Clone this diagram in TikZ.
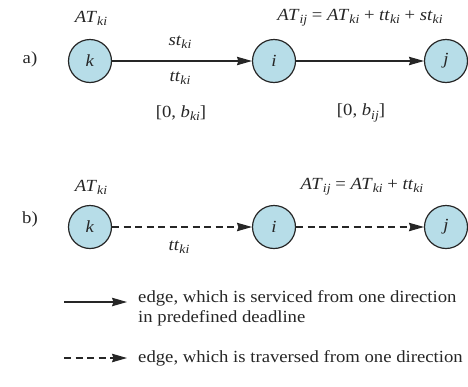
\documentclass[tikz,border=0pt]{standalone}
\usepackage{fontspec}
\setmainfont{Liberation Serif}[FakeStretch=1.1]
\usetikzlibrary{arrows.meta}
\definecolor{nodefill}{HTML}{B7DDE8}
\definecolor{ink}{HTML}{262626}
\newcommand{\vv}[2]{\textit{#1}\raisebox{-3.2pt}{\fontsize{12.5}{12.5}\selectfont\textit{#2}}}
\begin{document}
\begin{tikzpicture}[x=1pt,y=-1pt,
  font=\fontsize{17}{20}\selectfont,
  vertex/.style={circle,draw=ink,fill=nodefill,line width=1.2pt,minimum size=43pt,inner sep=0pt,text=ink},
  lbl/.style={text=ink,inner sep=0pt},
  edgearrow/.style={draw=ink,line width=1.1pt,-{Stealth[length=15pt,width=8.5pt,inset=1.5pt]}},
  dashedge/.style={edgearrow,dash pattern=on 7pt off 4.5pt}]
\useasboundingbox (0,0) rectangle (468,386);
% part a
\node[lbl] (la) at (30,59) {a)};
\node[vertex] (ka) at (90,61) {\textit{k}};
\node[vertex] (ia) at (274,61) {\textit{i}};
\node[vertex] (ja) at (446,61) {\textit{j}};
\draw[edgearrow] (ka) -- (ia);
\draw[edgearrow] (ia) -- (ja);
\node[lbl] (atka) at (91,18) {\vv{AT}{ki}};
\node[lbl] (stka) at (180,42) {\vv{st}{ki}};
\node[lbl] (ttka) at (180,78) {\vv{tt}{ki}};
\node[lbl] (bka) at (181,113) {[0, \vv{b}{ki}]};
\node[lbl] (atija) at (360,18) {\vv{AT}{ij} = \vv{AT}{ki} + \vv{tt}{ki} + \vv{st}{ki}};
\node[lbl] (bija) at (361,113) {[0, \vv{b}{ij}]};
% part b
\node[lbl] (lb) at (30,219) {b)};
\node[vertex] (kb) at (90,227) {\textit{k}};
\node[vertex] (ib) at (274,227) {\textit{i}};
\node[vertex] (jb) at (446,227) {\textit{j}};
\draw[dashedge] (kb) -- (ib);
\draw[dashedge] (ib) -- (jb);
\node[lbl] (atkb) at (91,187) {\vv{AT}{ki}};
\node[lbl] (ttkb) at (179,247) {\vv{tt}{ki}};
\node[lbl] (atijb) at (362,187) {\vv{AT}{ij} = \vv{AT}{ki} + \vv{tt}{ki}};
% legend
\coordinate (s1) at (64,302);
\coordinate (e1) at (127,302);
\draw[edgearrow] (s1) -- (e1);
\node[lbl,anchor=west,align=left] (t1) at (138,308) {edge, which is serviced from one direction\\in predefined deadline};
\coordinate (s2) at (64,358);
\coordinate (e2) at (127,358);
\draw[dashedge] (s2) -- (e2);
\node[lbl,anchor=west] (t2) at (138,358) {edge, which is traversed from one direction};
\end{tikzpicture}
\end{document}
